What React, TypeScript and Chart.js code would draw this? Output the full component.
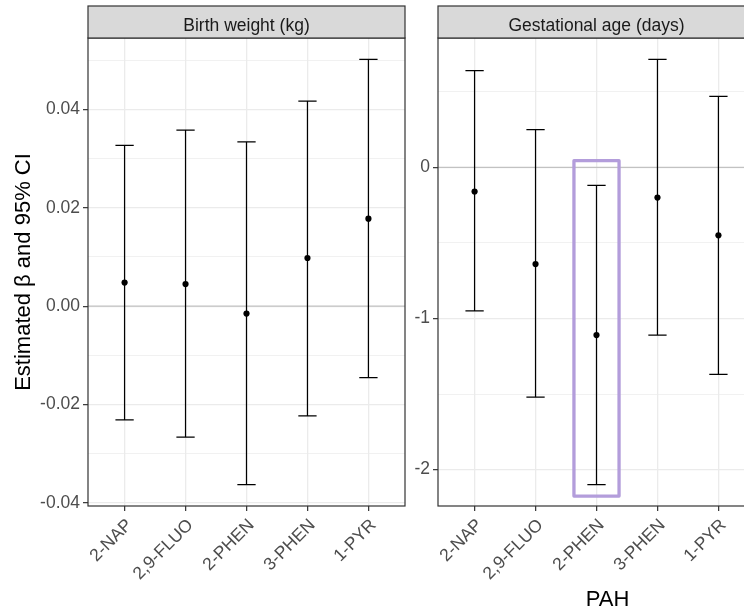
import React, { useEffect, useRef } from 'react';
import { Chart, registerables } from 'chart.js';

Chart.register(...registerables);

// ---------- data ----------
const categories = ['2-NAP', '2,9-FLUO', '2-PHEN', '3-PHEN', '1-PYR'];

const bwEstimate = [0.0048, 0.0045, -0.0015, 0.0098, 0.0178];
const bwLower = [-0.0231, -0.0266, -0.0363, -0.0223, -0.0145];
const bwUpper = [0.0327, 0.0358, 0.0334, 0.0417, 0.0502];

const gaEstimate = [-0.16, -0.64, -1.11, -0.2, -0.45];
const gaLower = [-0.95, -1.52, -2.1, -1.11, -1.37];
const gaUpper = [0.64, 0.25, -0.12, 0.715, 0.47];

const bwMajorTicks = [-0.04, -0.02, 0, 0.02, 0.04];
const bwMinorTicks = [-0.03, -0.01, 0.01, 0.03, 0.05];
const gaMajorTicks = [-2, -1, 0];
const gaMinorTicks = [-1.5, -0.5, 0.5];

const highlightCategory = '2-PHEN';
const highlightYRange = [-2.175, 0.044];

const yTitle = 'Estimated β and 95% CI';
const xTitle = 'PAH';

// ---------- style ----------
const FONT = "'Liberation Sans', Arial, sans-serif";
const TICK_SIZE = 17.5;
const GRID = '#EBEBEB';
const DARK = '#333333';

type Panel = {
  title: string;
  est: number[];
  lower: number[];
  upper: number[];
  major: number[];
  minor: number[];
  decimals: number;
  highlight: boolean;
  showYTitle: boolean;
  showXTitle: boolean;
  canvasLeft: number;
  canvasWidth: number;
  yAxisWidth: number;
  padRight: number;
};

const near = (a: number, arr: number[]) => arr.some((v) => Math.abs(v - a) < 1e-9);

function makePlugin(p: Panel) {
  return {
    id: 'facetDecor',
    beforeDatasetsDraw(chart: any) {
      const { ctx, chartArea: a, scales } = chart;
      const x = scales.x;
      const y = scales.y;
      ctx.save();
      // zero reference line
      const y0 = y.getPixelForValue(0);
      ctx.strokeStyle = '#C2C2C2';
      ctx.lineWidth = 1.2;
      ctx.beginPath();
      ctx.moveTo(a.left, y0);
      ctx.lineTo(a.right, y0);
      ctx.stroke();
      // error bars
      ctx.strokeStyle = '#000';
      ctx.lineWidth = 1.25;
      p.lower.forEach((lo, i) => {
        const hi = p.upper[i];
        const px = x.getPixelForValue(i);
        const pl = x.getPixelForValue(i - 0.15);
        const pr = x.getPixelForValue(i + 0.15);
        const yl = y.getPixelForValue(lo);
        const yh = y.getPixelForValue(hi);
        ctx.beginPath();
        ctx.moveTo(px, yl);
        ctx.lineTo(px, yh);
        ctx.moveTo(pl, yl);
        ctx.lineTo(pr, yl);
        ctx.moveTo(pl, yh);
        ctx.lineTo(pr, yh);
        ctx.stroke();
      });
      ctx.restore();
    },
    afterDatasetsDraw(chart: any) {
      if (!p.highlight) return;
      const { ctx, scales } = chart;
      const x = scales.x;
      const y = scales.y;
      const idx = categories.indexOf(highlightCategory);
      const l = x.getPixelForValue(idx - 0.37);
      const r = x.getPixelForValue(idx + 0.37);
      const t = y.getPixelForValue(highlightYRange[1]);
      const b = y.getPixelForValue(highlightYRange[0]);
      ctx.save();
      ctx.strokeStyle = '#B39DDB';
      ctx.lineWidth = 3.3;
      ctx.lineJoin = 'round';
      ctx.strokeRect(l, t, r - l, b - t);
      ctx.restore();
    },
    afterDraw(chart: any) {
      const { ctx, chartArea: a } = chart;
      ctx.save();
      // panel border
      ctx.strokeStyle = DARK;
      ctx.lineWidth = 1.2;
      ctx.strokeRect(a.left, a.top, a.right - a.left, a.bottom - a.top);
      // strip
      const stripTop = 6;
      ctx.fillStyle = '#D9D9D9';
      ctx.fillRect(a.left, stripTop, a.right - a.left, a.top - stripTop);
      ctx.strokeRect(a.left, stripTop, a.right - a.left, a.top - stripTop);
      ctx.fillStyle = '#1A1A1A';
      ctx.font = `${TICK_SIZE}px ${FONT}`;
      ctx.textAlign = 'center';
      ctx.textBaseline = 'alphabetic';
      ctx.fillText(p.title, (a.left + a.right) / 2, 30.5);
      if (p.showXTitle) {
        ctx.fillStyle = '#000';
        ctx.font = `22px ${FONT}`;
        ctx.fillText(xTitle, 607.5 - p.canvasLeft, 606);
      }
      ctx.restore();
    },
  };
}

function makeConfig(p: Panel): any {
  const lo = Math.min(...p.lower);
  const hi = Math.max(...p.upper);
  const pad = (hi - lo) * 0.05;
  const yTicks = [...p.major, ...p.minor].sort((u, v) => u - v);
  return {
    type: 'scatter',
    data: {
      datasets: [
        {
          data: p.est.map((v, i) => ({ x: i, y: v })),
          pointRadius: 3.1,
          pointHoverRadius: 3.1,
          pointBackgroundColor: '#000',
          pointBorderWidth: 0,
          borderColor: '#000',
        },
      ],
    },
    options: {
      animation: false,
      responsive: false,
      events: [],
      layout: { padding: { top: 38, right: p.padRight, left: 0, bottom: 0 } },
      plugins: { legend: { display: false }, tooltip: { enabled: false } },
      scales: {
        x: {
          type: 'linear',
          min: -0.6,
          max: categories.length - 1 + 0.6,
          afterBuildTicks: (s: any) => {
            s.ticks = categories.map((_, i) => ({ value: i }));
          },
          afterFit: (s: any) => {
            s.height = 609 - 506;
          },
          ticks: {
            autoSkip: false,
            maxRotation: 45,
            minRotation: 45,
            padding: 4,
            labelOffset: 5,
            color: '#4D4D4D',
            font: { family: FONT, size: TICK_SIZE },
            callback: (v: number) => categories[Math.round(v)],
          },
          grid: {
            color: GRID,
            lineWidth: 1.3,
            drawTicks: true,
            tickLength: 5,
            tickColor: DARK,
            tickWidth: 1.2,
          },
          border: { display: false },
        },
        y: {
          type: 'linear',
          min: lo - pad,
          max: hi + pad,
          afterBuildTicks: (s: any) => {
            s.ticks = yTicks.map((v) => ({ value: v }));
          },
          afterFit: (s: any) => {
            s.width = p.yAxisWidth;
          },
          ticks: {
            padding: 3,
            color: '#4D4D4D',
            font: { family: FONT, size: TICK_SIZE },
            callback: (v: number) => (near(v, p.major) ? v.toFixed(p.decimals) : ''),
          },
          grid: {
            color: GRID,
            lineWidth: (c: any) => (c.tick && near(c.tick.value, p.major) ? 1.3 : 0.7),
            drawTicks: true,
            tickLength: 5,
            tickWidth: 1.2,
            tickColor: (c: any) => (c.tick && near(c.tick.value, p.major) ? DARK : 'rgba(0,0,0,0)'),
          },
          border: { display: false },
          title: {
            display: p.showYTitle,
            text: yTitle,
            color: '#000',
            font: { family: FONT, size: 22 },
            padding: { top: 11, bottom: 0 },
          },
        },
      },
    },
    plugins: [makePlugin(p)],
  };
}

const panels: Panel[] = [
  {
    title: 'Birth weight (kg)',
    est: bwEstimate,
    lower: bwLower,
    upper: bwUpper,
    major: bwMajorTicks,
    minor: bwMinorTicks,
    decimals: 2,
    highlight: false,
    showYTitle: true,
    showXTitle: false,
    canvasLeft: 0,
    canvasWidth: 410,
    yAxisWidth: 88,
    padRight: 5,
  },
  {
    title: 'Gestational age (days)',
    est: gaEstimate,
    lower: gaLower,
    upper: gaUpper,
    major: gaMajorTicks,
    minor: gaMinorTicks,
    decimals: 0,
    highlight: true,
    showYTitle: false,
    showXTitle: true,
    canvasLeft: 410,
    canvasWidth: 355,
    yAxisWidth: 28,
    padRight: 10,
  },
];

function FacetPanel({ panel }: { panel: Panel }) {
  const ref = useRef<HTMLCanvasElement>(null);
  useEffect(() => {
    const chart = new Chart(ref.current as HTMLCanvasElement, makeConfig(panel));
    return () => chart.destroy();
  }, [panel]);
  return (
    <canvas
      ref={ref}
      width={panel.canvasWidth}
      height={609}
      style={{
        position: 'absolute',
        left: panel.canvasLeft,
        top: 0,
        width: panel.canvasWidth,
        height: 609,
      }}
    />
  );
}

export default function App() {
  return (
    <div
      style={{
        position: 'fixed',
        left: 0,
        top: 0,
        width: 744,
        height: 609,
        overflow: 'hidden',
        background: '#fff',
      }}
    >
      {panels.map((p) => (
        <FacetPanel key={p.title} panel={p} />
      ))}
    </div>
  );
}
